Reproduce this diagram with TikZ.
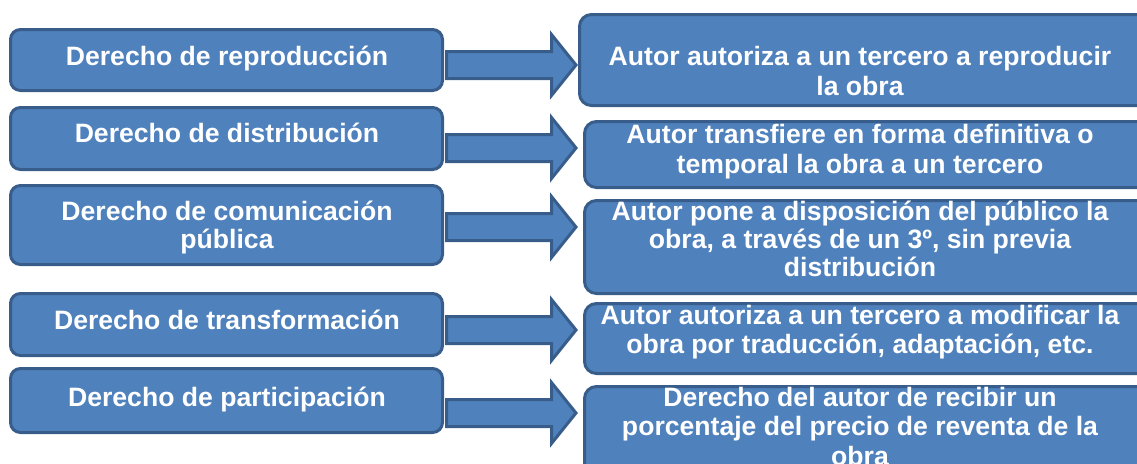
\documentclass[tikz,border=0pt]{standalone}
\usepackage{fontspec}
\setmainfont{Liberation Sans}
\usetikzlibrary{calc}
\definecolor{boxfill}{HTML}{4F81BD}
\definecolor{boxline}{HTML}{385D8A}
\tikzset{
  box/.style={draw=boxline, fill=boxfill, line width=3pt, rounded corners=10pt,
    inner sep=0pt, outer sep=0pt},
  rbox/.style={box, rounded corners=12pt},
  txt/.style={text=white, align=center, inner sep=0pt, outer sep=0pt,
    font=\fontsize{26.6}{30}\selectfont\bfseries},
  txtb/.style={txt, font=\fontsize{26.6}{28.3}\selectfont\bfseries},
  txtc/.style={txt, font=\fontsize{26.6}{27.5}\selectfont\bfseries},
  txtd/.style={txt, font=\fontsize{26.6}{29.5}\selectfont\bfseries},
  blockarrow/.style={draw=boxline, fill=boxfill, line width=3pt, line join=miter},
}
\begin{document}
\begin{tikzpicture}[x=1pt, y=-1pt]
\useasboundingbox (0,0) rectangle (1137,463);
\clip (0,0) rectangle (1137,463);
% left boxes
\node[box, minimum width=432pt, minimum height=61pt] (L1) at (226.5,60) {};
\node[box, minimum width=432pt, minimum height=62pt] (L2) at (226.5,138.5) {};
\node[box, minimum width=432pt, minimum height=79pt] (L3) at (226.5,225) {};
\node[box, minimum width=432pt, minimum height=62pt] (L4) at (226.5,324.5) {};
\node[box, minimum width=432pt, minimum height=64pt] (L5) at (226.5,400.5) {};
\node[txt] (L1t) at (227,59.7) {\strut Derecho de reproducción\strut};
\node[txt] (L2t) at (227,136.7) {\strut Derecho de distribución\strut};
\node[txtb] (L3t) at (227,228.5) {\strut Derecho de comunicación\\pública\strut};
\node[txt] (L4t) at (227,323) {\strut Derecho de transformación\strut};
\node[txt] (L5t) at (227,400) {\strut Derecho de participación\strut};
% arrow tips
\coordinate (t1) at (576,65);
\coordinate (t2) at (576,148);
\coordinate (t3) at (576,227);
\coordinate (t4) at (576,330);
\coordinate (t5) at (576,413);
\foreach \i in {1,...,5}{
  \draw[blockarrow] ($(L\i.east|-t\i)+(4,-13.5)$) -- ($(t\i)+(-24.5,-13.5)$)
    -- ($(t\i)+(-24.5,-30.5)$) -- (t\i) -- ($(t\i)+(-24.5,30.5)$)
    -- ($(t\i)+(-24.5,13.5)$) -- ($(L\i.east|-t\i)+(4,13.5)$) -- cycle;
}
% right boxes
\node[rbox, minimum width=580.5pt, minimum height=91pt] (R1) at (869.75,60) {};
\node[rbox, minimum width=575.5pt, minimum height=66pt] (R2) at (872.25,154.5) {};
\node[rbox, minimum width=575.5pt, minimum height=93pt] (R3) at (872.25,247) {};
\node[rbox, minimum width=575.5pt, minimum height=70pt] (R4) at (872.25,338.5) {};
\node[rbox, minimum width=575.5pt, minimum height=90pt] (R5) at (872.25,431.5) {};
\node[txt] (R1t) at (860,74) {\strut Autor autoriza a un tercero a reproducir\\la obra\strut};
\node[txt] (R2t) at (860,152) {\strut Autor transfiere en forma definitiva o\\temporal la obra a un tercero\strut};
\node[txtb] (R3t) at (860,242.7) {\strut Autor pone a disposición del público la\\obra, a través de un 3º, sin previa\\distribución\strut};
\node[txtc] (R4t) at (860,333.75) {\strut Autor autoriza a un tercero a modificar la\\obra por traducción, adaptación, etc.\strut};
\node[txtd] (R5t) at (860,430) {\strut Derecho del autor de recibir un\\porcentaje del precio de reventa de la\\obra\strut};
\end{tikzpicture}
\end{document}
